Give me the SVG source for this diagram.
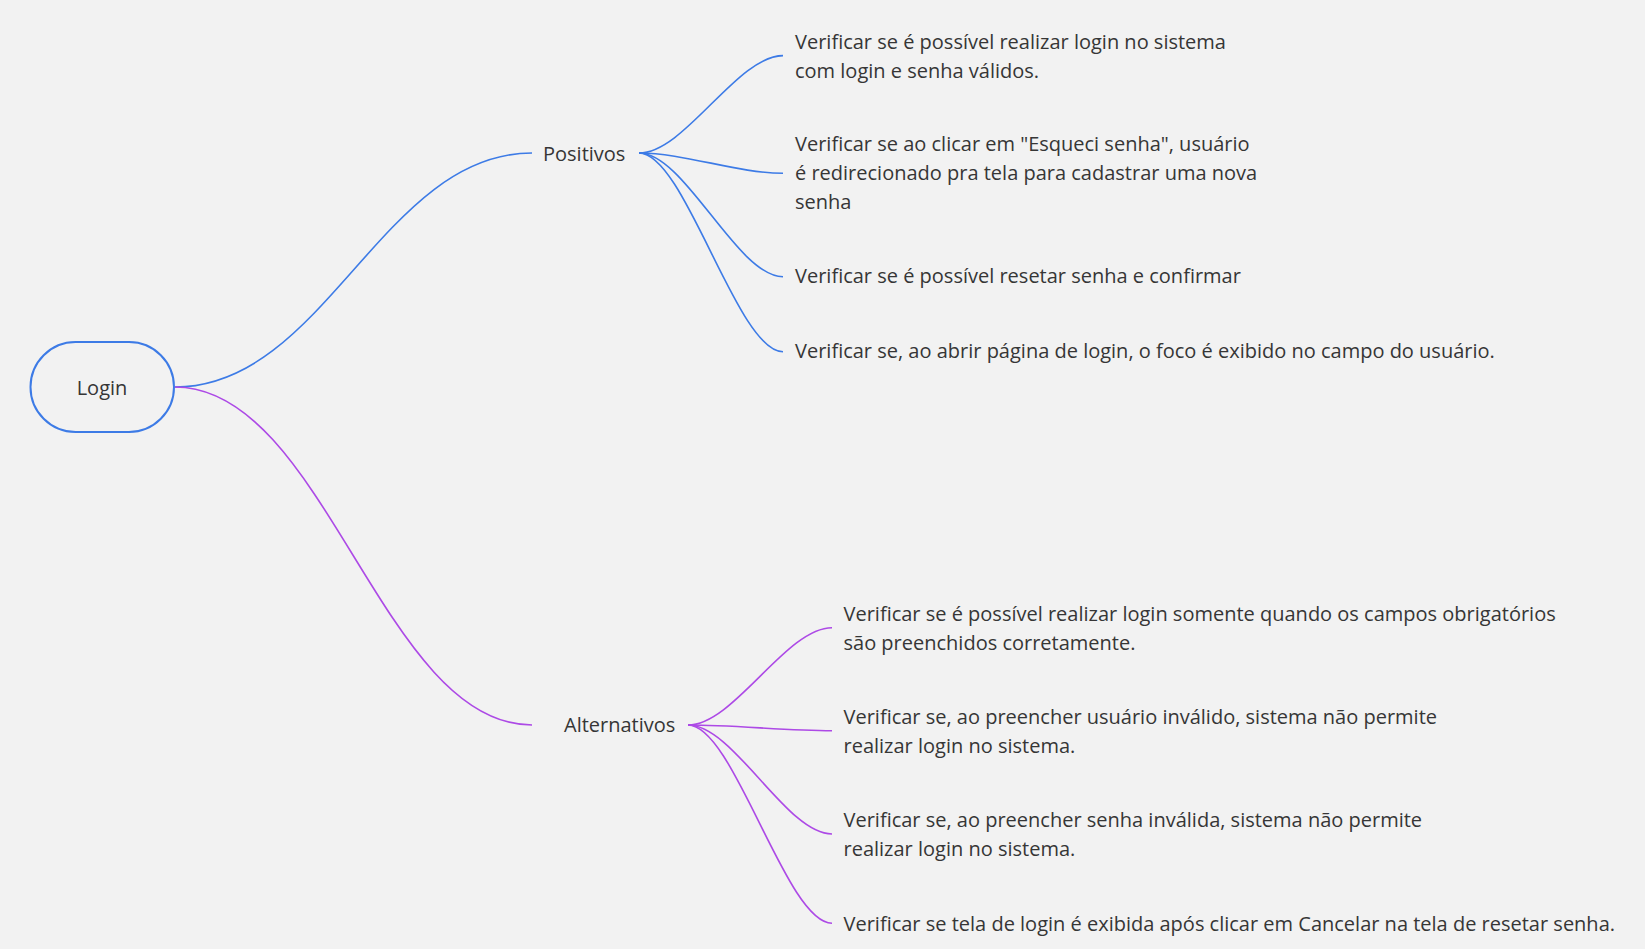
<svg xmlns="http://www.w3.org/2000/svg" width="1645" height="949" viewBox="0 0 1645 949">
  <style>
    .t { font-family: "Open Sans", "Noto Sans", "Liberation Sans", sans-serif; font-size: 20px; fill: #363636; }
    .root { font-size: 20px; }
    .cb { fill: none; stroke: #3d7be6; stroke-width: 1.6; }
    .cp { fill: none; stroke: #ad4ae6; stroke-width: 1.6; }
  </style>
  <rect x="0" y="0" width="1645" height="949" fill="#f2f2f2"/>
  <g id="connectors">
    <path class="cb" d="M175,387 C325,387 382,153 532,153"/>
    <path class="cp" d="M175,387 C325,387 382,725 532,725"/>
    <path class="cb" d="M639,153 C685,153 737,55.6 783,55.6"/>
    <path class="cb" d="M639,153 C685,153 737,173.3 783,173.3"/>
    <path class="cb" d="M639,153 C685,153 737,276.7 783,276.7"/>
    <path class="cb" d="M639,153 C685,153 737,351.7 783,351.7"/>
    <path class="cp" d="M688,725 C734,725 786,627.7 832,627.7"/>
    <path class="cp" d="M688,725 C734,725 786,730.7 832,730.7"/>
    <path class="cp" d="M688,725 C734,725 786,834 832,834"/>
    <path class="cp" d="M688,725 C734,725 786,923.2 832,923.2"/>
  </g>
  <g id="node-login">
    <rect x="30.5" y="342" width="143.5" height="90" rx="45" ry="45" fill="#f2f2f2" stroke="#3d7be6" stroke-width="2"/>
    <text class="t root" x="102" y="395" text-anchor="middle">Login</text>
  </g>
  <g id="node-positivos">
    <text class="t" x="543" y="160.5">Positivos</text>
  </g>
  <g id="node-p1">
    <text class="t" x="795" y="49"><tspan x="795">Verificar se é possível realizar login no sistema</tspan><tspan x="795" dy="29">com login e senha válidos.</tspan></text>
  </g>
  <g id="node-p2">
    <text class="t" x="795" y="150.7"><tspan x="795">Verificar se ao clicar em "Esqueci senha", usuário</tspan><tspan x="795" dy="29">é redirecionado pra tela para cadastrar uma nova</tspan><tspan x="795" dy="29">senha</tspan></text>
  </g>
  <g id="node-p3">
    <text class="t" x="795" y="283">Verificar se é possível resetar senha e confirmar</text>
  </g>
  <g id="node-p4">
    <text class="t" x="795" y="358">Verificar se, ao abrir página de login, o foco é exibido no campo do usuário.</text>
  </g>
  <g id="node-alternativos">
    <text class="t" x="564" y="732">Alternativos</text>
  </g>
  <g id="node-a1">
    <text class="t" x="843.5" y="620.5"><tspan x="843.5">Verificar se é possível realizar login somente quando os campos obrigatórios</tspan><tspan x="843.5" dy="29">são preenchidos corretamente.</tspan></text>
  </g>
  <g id="node-a2">
    <text class="t" x="843.5" y="724"><tspan x="843.5">Verificar se, ao preencher usuário inválido, sistema não permite</tspan><tspan x="843.5" dy="29">realizar login no sistema.</tspan></text>
  </g>
  <g id="node-a3">
    <text class="t" x="843.5" y="827"><tspan x="843.5">Verificar se, ao preencher senha inválida, sistema não permite</tspan><tspan x="843.5" dy="29">realizar login no sistema.</tspan></text>
  </g>
  <g id="node-a4">
    <text class="t" x="843.5" y="930.5">Verificar se tela de login é exibida após clicar em Cancelar na tela de resetar senha.</text>
  </g>
</svg>
